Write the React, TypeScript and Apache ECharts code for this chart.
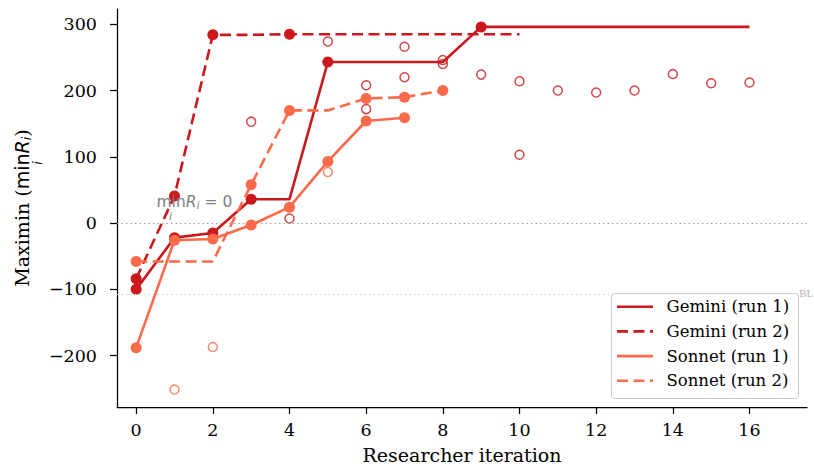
import React, { useEffect, useRef } from "react";
import * as echarts from "echarts";

// ---- data ----
const geminiRun1 = [-100, -22, -15, 36, 36, 243, 243, 243, 243, 296, 296, 296, 296, 296, 296, 296, 296];
const geminiRun2 = [-84, 41, 284, 284, 285, 285, 285, 285, 285, 285, 285];
const sonnetRun1 = [-188, -26, -24, -3, 24, 93, 154, 159];
const sonnetRun2 = [-58, -58, -58, 58, 170, 170, 188, 190, 200];
const geminiAttemptX = [3, 4, 5, 6, 6, 7, 7, 8, 8, 9, 10, 10, 11, 12, 13, 14, 15, 16];
const geminiAttemptY = [153, 7, 274, 208, 172, 266, 220, 246, 240, 224, 214, 103, 200, 197, 200, 225, 211, 212];
const sonnetAttemptX = [1, 2, 5];
const sonnetAttemptY = [-251, -187, 77];
const baselineValue = -107;
const xTicks = [0, 2, 4, 6, 8, 10, 12, 14, 16];
const yTicks = [-200, -100, 0, 100, 200, 300];

const GEMINI = "#cb181d";
const SONNET = "#fb6a4a";

const runs = [
  { name: "Gemini (run 1)", values: geminiRun1, color: GEMINI, dashed: false },
  { name: "Gemini (run 2)", values: geminiRun2, color: GEMINI, dashed: true },
  { name: "Sonnet (run 1)", values: sonnetRun1, color: SONNET, dashed: false },
  { name: "Sonnet (run 2)", values: sonnetRun2, color: SONNET, dashed: true },
];

const DASH = [11, 5.5];
const SERIF = "DejaVu Serif";
const SANS = "DejaVu Sans";
const TICK_FS = 17.5;
const TITLE_FS = 19;
const LEGEND_FS = 16.5;
const GRAY = "#808080";

function lineData(values: number[]) {
  let best = -Infinity;
  return values.map((v, i) => {
    const improved = i === 0 || v > best;
    if (v > best) best = v;
    return { value: [i, v], symbol: improved ? "circle" : "none" };
  });
}

export default function App() {
  const ref = useRef<HTMLDivElement>(null);
  useEffect(() => {
    if (!ref.current) return;
    const chart = echarts.init(ref.current, null, { renderer: "svg" });

    const lineSeries = runs.map((r, k) => ({
      type: "line",
      name: r.name,
      data: lineData(r.values),
      showAllSymbol: true,
      symbolSize: 11,
      itemStyle: { color: r.color },
      lineStyle: { color: r.color, width: 2.6, type: r.dashed ? DASH : "solid" },
      z: 3 + k,
      silent: true,
    }));

    const legendX = 611.5, legendY = 293.5;
    const legendGraphics: any[] = [
      {
        type: "rect",
        shape: { x: legendX, y: legendY, width: 187, height: 105, r: 3 },
        style: { fill: "rgba(255,255,255,0.85)", stroke: "#cccccc", lineWidth: 1 },
        z: 100,
      },
    ];
    runs.forEach((r, i) => {
      const y = 306.7 + i * 24.7;
      legendGraphics.push({
        type: "line",
        shape: { x1: 617, y1: y, x2: 653, y2: y },
        style: { stroke: r.color, lineWidth: 2.6, lineDash: r.dashed ? DASH : null },
        z: 101,
      });
      legendGraphics.push({
        type: "text",
        x: 666.5,
        y: y,
        style: { text: r.name, fontSize: LEGEND_FS, fontFamily: SERIF, fill: "#000", verticalAlign: "middle", align: "left" },
        z: 101,
      });
    });

    const option: any = {
      animation: false,
      grid: { left: 117, right: 7, top: 9, bottom: 60, outerBoundsMode: "none" },
      xAxis: {
        type: "value",
        min: -0.5,
        max: 17.5,
        splitLine: { show: false },
        axisLine: { onZero: false, lineStyle: { color: "#000", width: 1.25 } },
        axisTick: { show: true, length: 7, customValues: xTicks, lineStyle: { color: "#000", width: 1.25 } },
        axisLabel: { customValues: xTicks, fontSize: TICK_FS, fontFamily: SERIF, color: "#000", margin: 14 },
        name: "Researcher iteration",
        nameLocation: "middle",
        nameGap: 38,
        nameTextStyle: { fontSize: TITLE_FS, fontFamily: SERIF, color: "#000" },
      },
      yAxis: {
        type: "value",
        min: -277.5,
        max: 323,
        splitLine: { show: false },
        axisLine: { onZero: false, lineStyle: { color: "#000", width: 1.25 } },
        axisTick: { show: true, length: 7, customValues: yTicks, lineStyle: { color: "#000", width: 1.25 } },
        axisLabel: {
          customValues: yTicks,
          fontSize: TICK_FS,
          fontFamily: SERIF,
          color: "#000",
          margin: 20,
          formatter: (v: number) => String(v).replace("-", "\u2212"),
        },
      },
      series: [
        {
          type: "scatter",
          name: "gemini attempts",
          data: geminiAttemptX.map((x, i) => [x, geminiAttemptY[i]]),
          symbol: "circle",
          symbolSize: 9,
          itemStyle: { color: "rgba(255,255,255,0)", borderColor: GEMINI, borderWidth: 1.5 },
          z: 2,
          silent: true,
          markLine: {
            silent: true,
            symbol: "none",
            label: { show: false },
            data: [
              { yAxis: 0, lineStyle: { color: "#a0a0a0", width: 1.1, type: [1.5, 3] } },
              { yAxis: baselineValue, lineStyle: { color: "#cfcfcf", width: 1.1, type: [1.5, 3] } },
            ],
          },
        },
        {
          type: "scatter",
          name: "sonnet attempts",
          data: sonnetAttemptX.map((x, i) => [x, sonnetAttemptY[i]]),
          symbol: "circle",
          symbolSize: 9,
          itemStyle: { color: "rgba(255,255,255,0)", borderColor: SONNET, borderWidth: 1.5 },
          z: 2,
          silent: true,
        },
        ...lineSeries,
      ],
      graphic: [
        // y-axis title
        {
          type: "group",
          x: 22,
          y: 208,
          rotation: Math.PI / 2,
          children: [
            {
              type: "text",
              x: 0,
              y: 0,
              style: {
                text: "{a|Maximin (}{m|min}{r|R}{s|i}{a|)}",
                align: "center",
                verticalAlign: "middle",
                rich: {
                  a: { fontFamily: SERIF, fontSize: TITLE_FS, fill: "#000", lineHeight: 22 },
                  m: { fontFamily: SANS, fontSize: TITLE_FS, fill: "#000", lineHeight: 22 },
                  r: { fontFamily: SANS, fontStyle: "italic", fontSize: TITLE_FS, fill: "#000", lineHeight: 22 },
                  s: { fontFamily: SANS, fontStyle: "italic", fontSize: 13, fill: "#000", lineHeight: 11, verticalAlign: "bottom" },
                },
              },
            },
            {
              type: "text",
              x: 45,
              y: 15,
              style: { text: "i", fontSize: 13, fontStyle: "italic", fontFamily: SANS, fill: "#000", align: "center", verticalAlign: "middle" },
            },
          ],
        },
        // min_i R_i = 0 annotation
        {
          type: "text",
          x: 156.5,
          y: 202,
          style: {
            text: "{m|min}{r|R}{s|i}{m| = 0}",
            align: "left",
            verticalAlign: "middle",
            rich: {
              m: { fontFamily: SANS, fontSize: 15.5, fill: GRAY, lineHeight: 18 },
              r: { fontFamily: SANS, fontStyle: "italic", fontSize: 15.5, fill: GRAY, lineHeight: 18 },
              s: { fontFamily: SANS, fontStyle: "italic", fontSize: 11, fill: GRAY, lineHeight: 9, verticalAlign: "bottom" },
            },
          },
          z: 10,
        },
        {
          type: "text",
          x: 170.5,
          y: 216,
          style: { text: "i", fontSize: 11, fontStyle: "italic", fontFamily: SANS, fill: GRAY, align: "center", verticalAlign: "middle" },
          z: 10,
        },
        // baseline label
        {
          type: "text",
          x: 799,
          y: 293.5,
          style: { text: "BL", fontSize: 10, fontFamily: SERIF, fill: "#b5b5b5", align: "left", verticalAlign: "middle" },
          z: 10,
        },
        ...legendGraphics,
      ],
    };
    chart.setOption(option);
    return () => chart.dispose();
  }, []);

  return (
    <div
      ref={ref}
      style={{ position: "absolute", left: 0, top: 0, width: 814, height: 467, background: "#fff" }}
    />
  );
}
